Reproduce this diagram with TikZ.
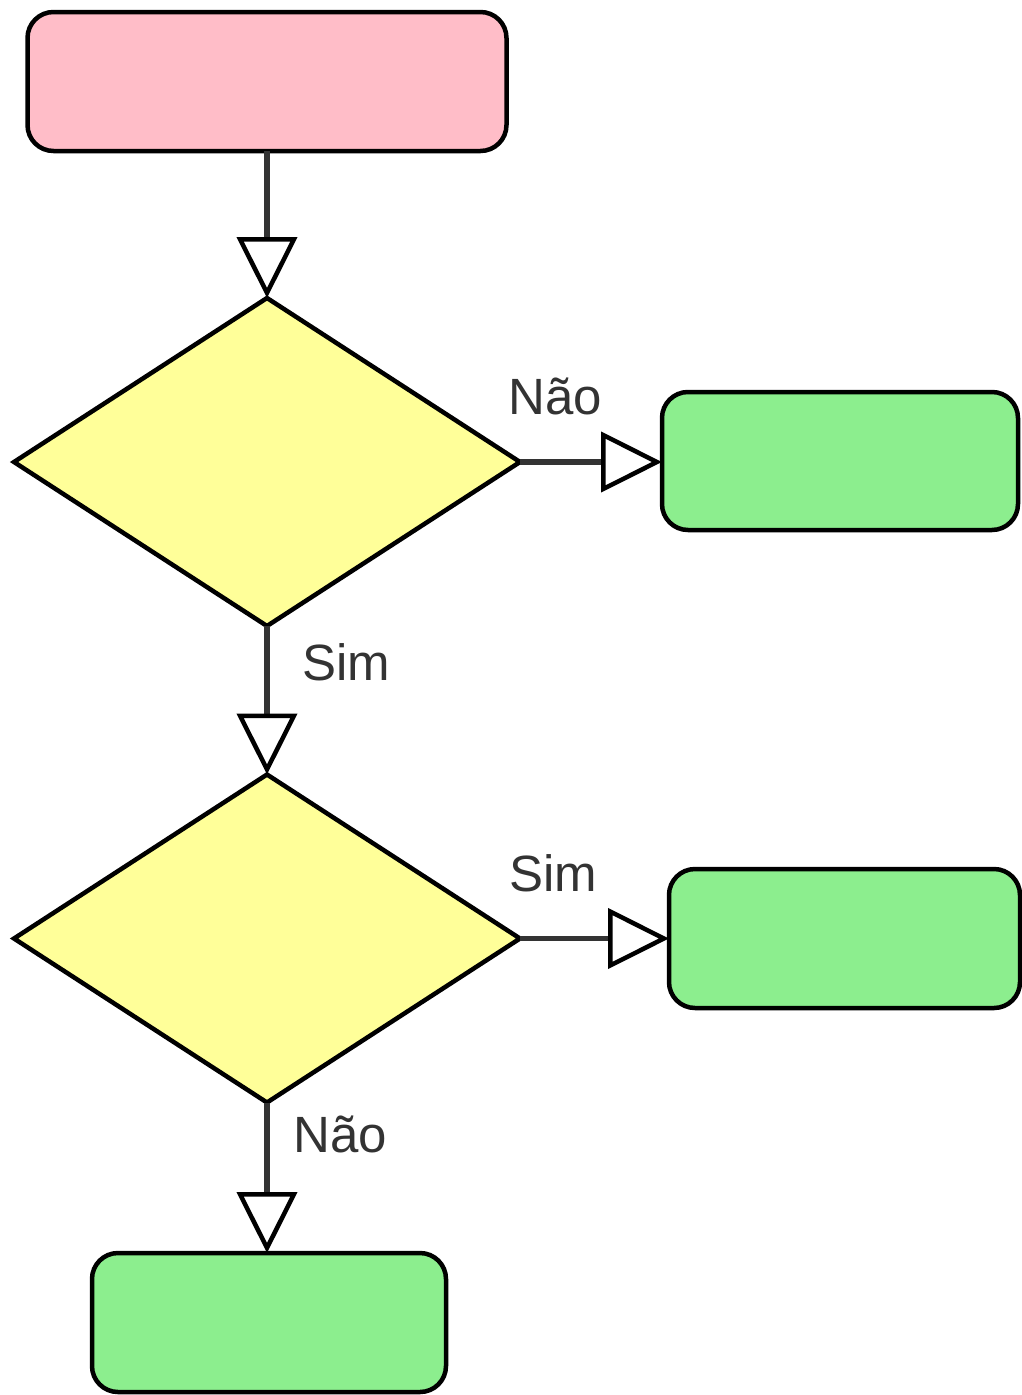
\documentclass[tikz,border=0pt]{standalone}
\usepackage{fontspec}
\setmainfont{Liberation Sans}
\usetikzlibrary{shapes.geometric,arrows.meta}
\definecolor{pinkfill}{HTML}{FFBDC8}
\definecolor{yellowfill}{HTML}{FFFF99}
\definecolor{greenfill}{HTML}{8CEE8E}
\definecolor{linegray}{HTML}{333333}
\tikzset{
  box/.style={draw=black, line width=4.5pt, rounded corners=26pt, inner sep=0pt, outer sep=0pt},
  decision/.style={diamond, draw=black, line width=4.5pt, fill=yellowfill, inner sep=0pt, outer sep=0pt, minimum width=506pt, minimum height=328pt},
  flow/.style={draw=linegray, line width=5.5pt, -{Triangle[fill=white, color=black, length=61pt, width=60pt, line width=4.5pt]}},
  lbl/.style={text=linegray, font=\fontsize{51}{60}\selectfont, inner sep=0pt}
}
\begin{document}
\begin{tikzpicture}[x=1pt,y=-1pt]
\useasboundingbox (0,0) rectangle (1022,1395);
\node[box, fill=pinkfill, minimum width=479pt, minimum height=139pt] (start) at (267,81.5) {};
\node[decision] (d1) at (267,462) {};
\node[box, fill=greenfill, minimum width=356pt, minimum height=138pt] (g1) at (840,461) {};
\node[decision] (d2) at (267,938.5) {};
\node[box, fill=greenfill, minimum width=351pt, minimum height=139pt] (g2) at (844.5,938.5) {};
\node[box, fill=greenfill, minimum width=354pt, minimum height=139pt] (g3) at (269,1322.5) {};
\draw[flow] (start.south) -- (d1.north);
\draw[flow] (d1.east) -- (d1.east -| g1.west);
\draw[flow] (d1.south) -- (d2.north);
\draw[flow] (d2.east) -- (d2.east -| g2.west);
\draw[flow] (d2.south) -- (d2.south |- g3.north);
\node[lbl] (l1) at (555,396) {Não};
\node[lbl] (l2) at (346,662) {Sim};
\node[lbl] (l3) at (553,873) {Sim};
\node[lbl] (l4) at (340,1134) {Não};
\end{tikzpicture}
\end{document}
